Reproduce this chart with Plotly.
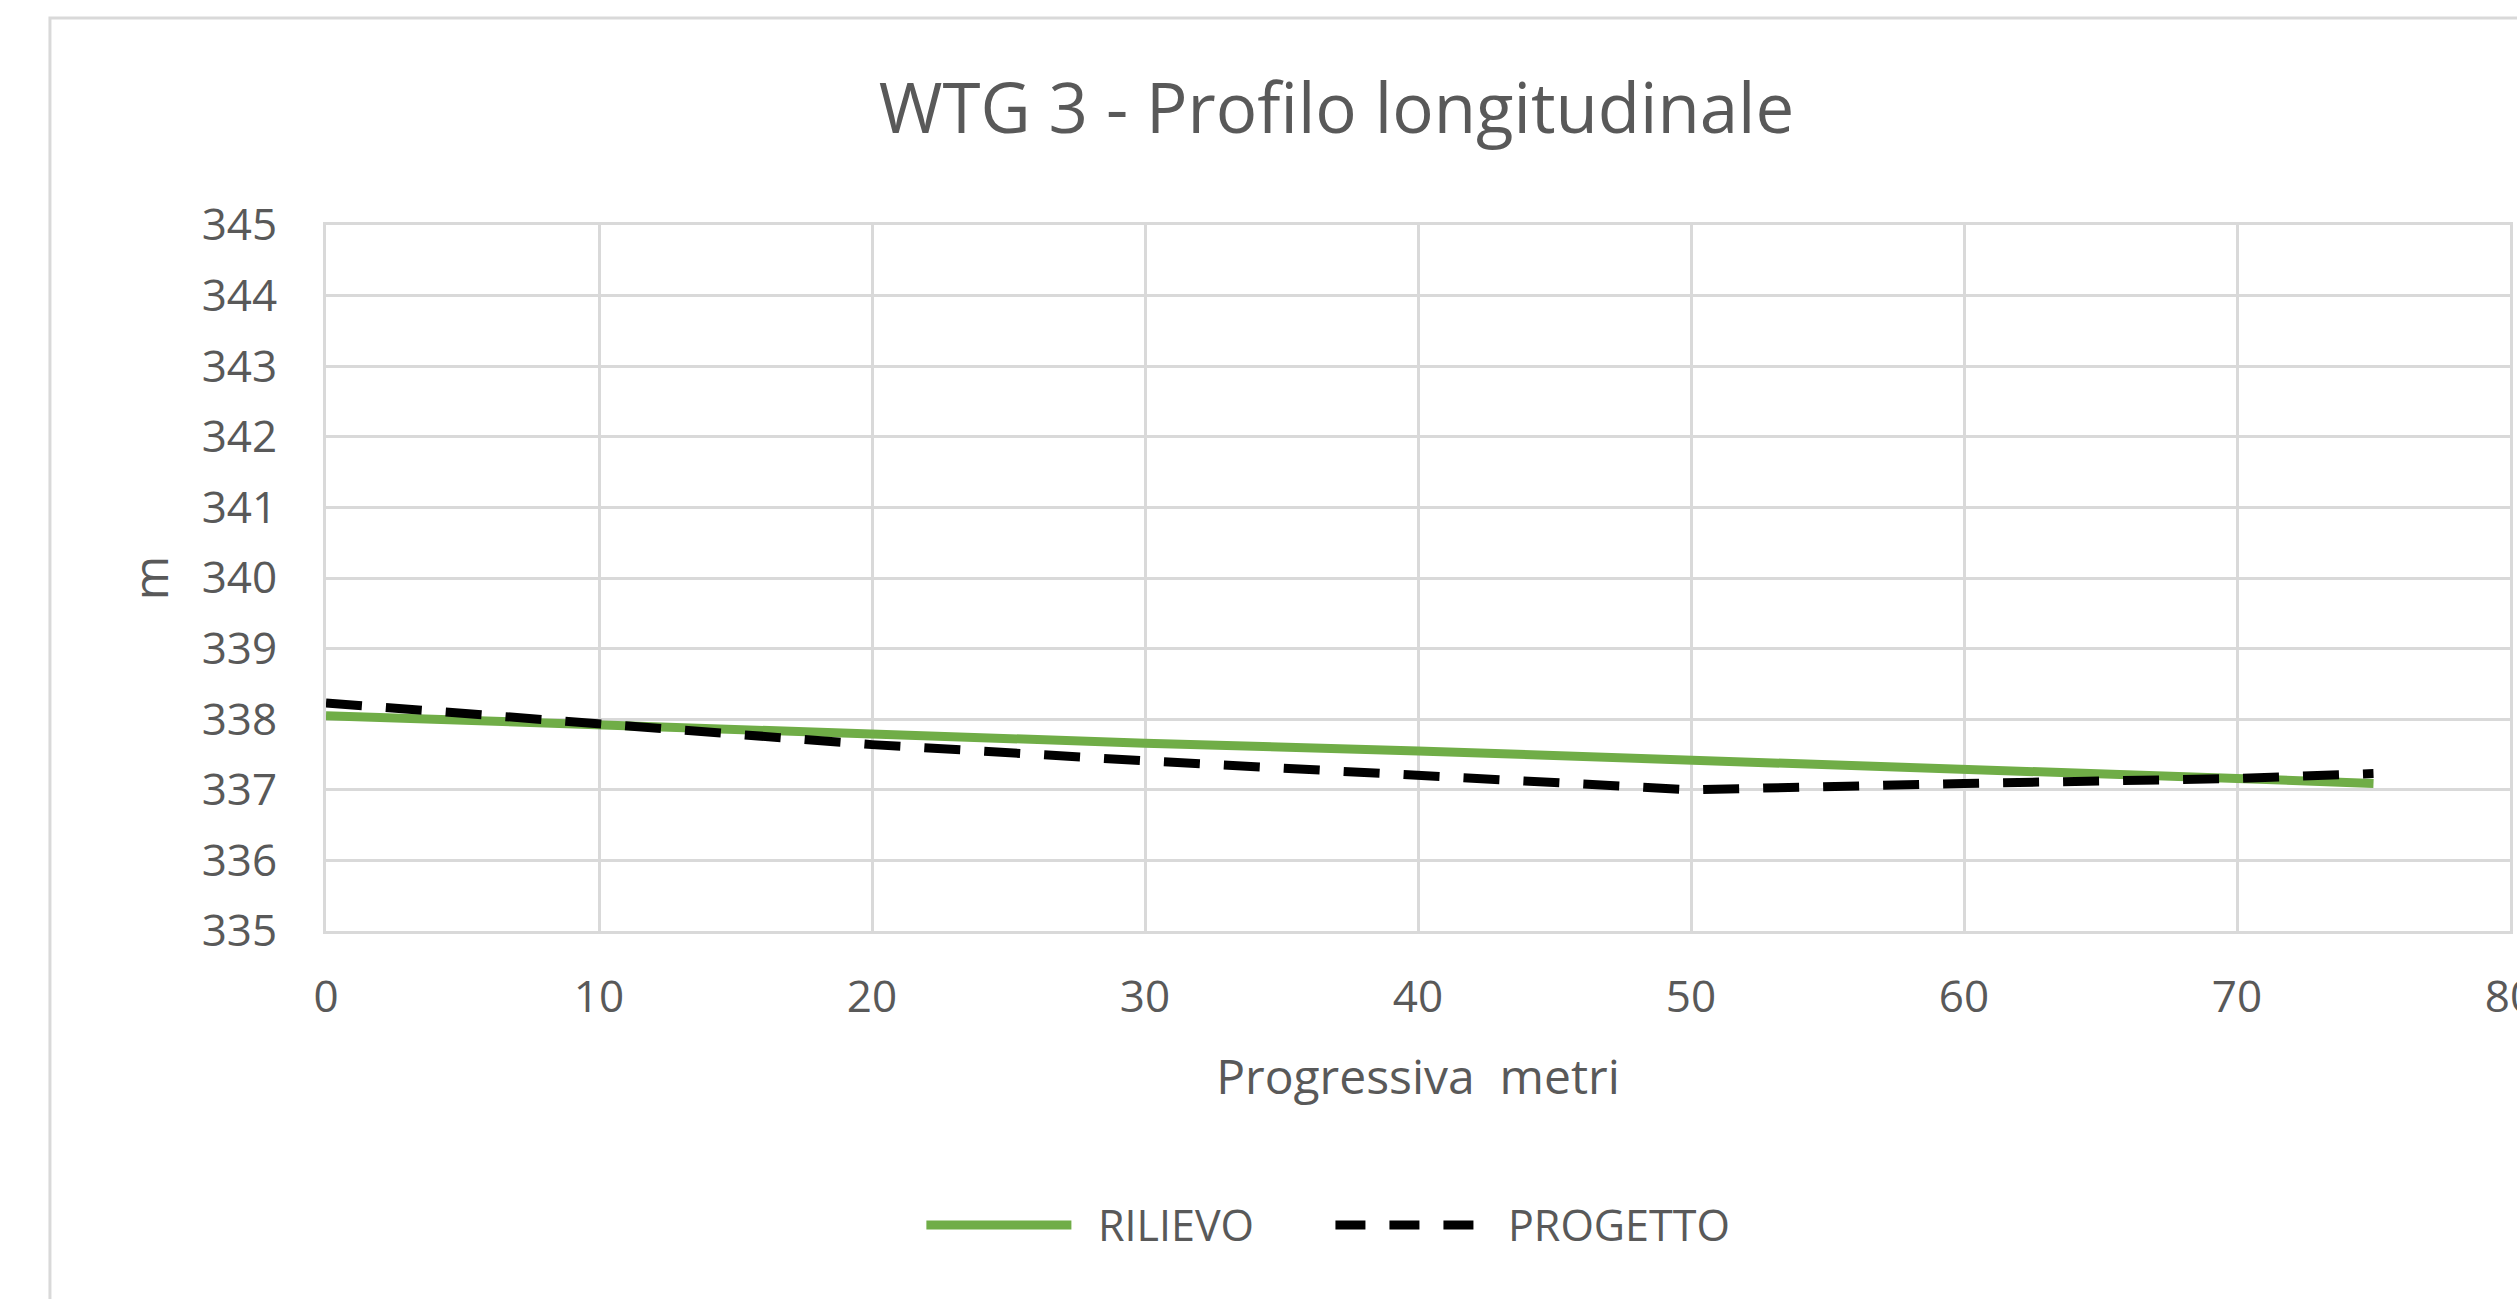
import plotly.graph_objects as go

# distanza progressiva (m)
progressiva = [0, 10, 20, 30, 40, 50, 60, 70, 75]
rilievo = [338.05, 337.91, 337.77, 337.66, 337.55, 337.43, 337.30, 337.16, 337.09]
progetto = [338.23, 337.93, 337.64, 337.41, 337.20, 337.00, 337.09, 337.16, 337.23]

x_ticks = [0, 10, 20, 30, 40, 50, 60, 70, 80]
y_ticks = [335, 336, 337, 338, 339, 340, 341, 342, 343, 344, 345]

GREEN = '#70ad47'
GRID = '#d9d9d9'
TEXT = '#595959'
FONT = 'Open Sans'

fig = go.Figure()
fig.add_trace(go.Scatter(x=progressiva, y=rilievo, mode='lines', name='RILIEVO',
                         line=dict(color=GREEN, width=9)))
fig.add_trace(go.Scatter(x=progressiva, y=progetto, mode='lines', name='PROGETTO',
                         line=dict(color='black', width=9, dash='36px,24px')))

# legenda in stile Excel + bordo dell'area grafico
shapes = [
    dict(type='rect', xref='paper', yref='paper', x0=-0.1264, x1=1.3, y0=-0.7, y1=1.2932,
         line=dict(color=GRID, width=3), fillcolor='rgba(0,0,0,0)', layer='below'),
    dict(type='line', xref='paper', yref='paper', x0=0.2749, x1=0.3413, y0=-0.4164, y1=-0.4164,
         line=dict(color=GREEN, width=9)),
    dict(type='line', xref='paper', yref='paper', x0=0.4622, x1=0.5286, y0=-0.4164, y1=-0.4164,
         line=dict(color='black', width=9, dash='30px,24px')),
]
annotations = [
    dict(text='RILIEVO', xref='paper', yref='paper', x=0.3527, y=-0.4164,
         xanchor='left', yanchor='middle', showarrow=False,
         font=dict(family=FONT, size=43, color=TEXT)),
    dict(text='PROGETTO', xref='paper', yref='paper', x=0.5405, y=-0.4164,
         xanchor='left', yanchor='middle', showarrow=False,
         font=dict(family=FONT, size=43, color=TEXT)),
]

fig.update_layout(
    width=2517, height=1299,
    margin=dict(l=326, r=7, t=225, b=368, autoexpand=False),
    paper_bgcolor='white', plot_bgcolor='white',
    showlegend=False,
    title=dict(text='WTG 3 - Profilo longitudinale', x=0.531, xref='container', xanchor='center',
               y=1 - 109 / 1299, yanchor='middle',
               font=dict(family=FONT, size=69, color=TEXT)),
    font=dict(family=FONT, color=TEXT),
    shapes=shapes, annotations=annotations,
)
fig.update_xaxes(range=[0, 80], tickvals=x_ticks, showgrid=True, gridcolor=GRID, gridwidth=3,
                 showline=True, linecolor=GRID, linewidth=3, mirror=True, zeroline=False,
                 automargin=False, ticklabeloverflow='allow',
                 tickfont=dict(family=FONT, size=44, color=TEXT), ticks='', ticklabelstandoff=25,
                 title=dict(text='Progressiva  metri', standoff=37,
                            font=dict(family=FONT, size=48, color=TEXT)))
fig.update_yaxes(range=[335, 345], tickvals=y_ticks, showgrid=True, gridcolor=GRID, gridwidth=3,
                 showline=True, linecolor=GRID, linewidth=3, mirror=True, zeroline=False,
                 automargin=False,
                 tickfont=dict(family=FONT, size=44, color=TEXT), ticks='', ticklabelstandoff=37,
                 title=dict(text='m', standoff=18,
                            font=dict(family=FONT, size=48, color=TEXT)))

fig.write_html("out.html", config={'displayModeBar': False},
               post_script="document.body.style.margin='0';document.body.style.overflow='hidden';")
